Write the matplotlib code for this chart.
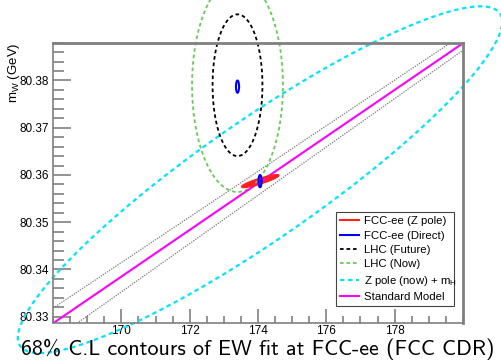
import numpy as np
import matplotlib
matplotlib.use("Agg")
import matplotlib.pyplot as plt

plt.rcParams['font.family'] = ['Liberation Sans', 'DejaVu Sans']
plt.rcParams['mathtext.default'] = 'regular'

# axis range (m_top in GeV, m_W in GeV)
mt_range = [168.0, 180.0]
mw_range = [80.3286, 80.3879]

# Standard Model line and its uncertainty band
sm_mt = [168.0, 180.0]
sm_mw = [80.3286, 80.3879]
band_up_mt = [168.0, 179.62]
band_up_mw = [80.3318, 80.3879]
band_lo_mt = [168.70, 180.0]
band_lo_mw = [80.3286, 80.3864]

# contours: centre (mt, mw) and two conjugate half-axes (dmt, dmw)
zpole_now_c = [174.06, 80.3590]
zpole_now_a = [7.02, 0.0352]
zpole_now_b = [0.98, -0.0104]

lhc_now_c = [173.4, 80.379]
lhc_now_a = [1.33, 0.0]
lhc_now_b = [0.0, 0.0226]

lhc_fut_c = [173.4, 80.379]
lhc_fut_a = [0.73, 0.0]
lhc_fut_b = [0.0, 0.0150]

fcc_z_c = [174.06, 80.3587]
fcc_z_a = [0.53, 0.0012]
fcc_z_b = [0.022, -0.0005]

fcc_dir_c = [[174.06, 80.3587], [173.40, 80.3787]]
fcc_dir_a = [0.045, 0.0]
fcc_dir_b = [0.0, 0.0013]

xticks = [170, 172, 174, 176, 178]
yticks = [80.33, 80.34, 80.35, 80.36, 80.37, 80.38]


def ellipse(c, a, b, n=400):
    t = np.linspace(0, 2 * np.pi, n)
    x = c[0] + a[0] * np.cos(t) + b[0] * np.sin(t)
    y = c[1] + a[1] * np.cos(t) + b[1] * np.sin(t)
    return x, y


fig = plt.figure(figsize=(5.02, 3.61), dpi=100)
ax = fig.add_axes([0.1056, 0.1044, 0.8167, 0.7773])
ax.set_xlim(mt_range)
ax.set_ylim(mw_range)

# SM band and line
ax.plot(band_up_mt, band_up_mw, color='#7a7a7a', lw=0.9, ls=(0, (1, 1)))
ax.plot(band_lo_mt, band_lo_mw, color='#7a7a7a', lw=0.9, ls=(0, (1, 1)))

# big contours (drawn past the frame like ROOT does)
x, y = ellipse(zpole_now_c, zpole_now_a, zpole_now_b)
l_cyan, = ax.plot(x, y, color='#00e5ff', lw=1.6, ls=(0, (2, 1.6)), clip_on=False)
x, y = ellipse(lhc_now_c, lhc_now_a, lhc_now_b)
l_green, = ax.plot(x, y, color='#66cc55', lw=1.3, ls=(0, (2, 1.6)), clip_on=False)
x, y = ellipse(lhc_fut_c, lhc_fut_a, lhc_fut_b)
l_black, = ax.plot(x, y, color='black', lw=1.3, ls=(0, (2, 1.6)), clip_on=False)

l_sm, = ax.plot(sm_mt, sm_mw, color='#ff00ff', lw=1.5)

x, y = ellipse(fcc_z_c, fcc_z_a, fcc_z_b)
ax.fill(x, y, color='#ff2020', lw=0)
l_red, = ax.plot(x, y, color='#ff2020', lw=1.5)
for c in fcc_dir_c:
    x, y = ellipse(c, fcc_dir_a, fcc_dir_b)
    l_blue, = ax.plot(x, y, color='#0000ff', lw=1.5)

# frame and ticks in ROOT style
for s in ['left', 'bottom']:
    ax.spines[s].set_color('#808080')
    ax.spines[s].set_linewidth(1.2)
for s in ['top', 'right']:
    ax.spines[s].set_color('#808080')
    ax.spines[s].set_linewidth(2.0)

ax.set_xticks(xticks)
ax.set_xticks(np.arange(168.0, 180.01, 0.5), minor=True)
ax.set_yticks(yticks)
ax.set_yticks(np.arange(80.330, 80.388, 0.002), minor=True)
ax.set_yticklabels(['%.2f' % v for v in yticks])
ax.tick_params(axis='y', which='major', direction='in', length=13, width=1.2,
               color='#808080', labelsize=8.5, pad=3)
ax.tick_params(axis='y', which='minor', direction='in', length=8, width=1.2,
               color='#808080')
ax.tick_params(axis='x', which='major', direction='in', length=10, width=1.2,
               color='#808080', labelsize=8.5, pad=1.5)
ax.tick_params(axis='x', which='minor', direction='in', length=5, width=1.2,
               color='#808080')

fig.text(0.028, 0.882, 'm$_W$ (GeV)', rotation=90, ha='center', va='top',
         fontsize=9.5)

leg = ax.legend([l_red, l_blue, l_black, l_green, l_cyan, l_sm],
                ['FCC-ee (Z pole)', 'FCC-ee (Direct)', 'LHC (Future)',
                 'LHC (Now)', 'Z pole (now) + m$_H$', 'Standard Model'],
                loc='lower left', bbox_to_anchor=(0.690, 0.0617, 0.288, 0.349),
                mode='expand', fontsize=8.2, frameon=True, fancybox=False,
                framealpha=1, edgecolor='#444444', labelspacing=0.38,
                handlelength=1.7, handletextpad=0.45, borderpad=0.35,
                borderaxespad=0)
leg.get_frame().set_linewidth(0.8)

fig.text(0.513, 0.002, '68% C.L contours of EW fit at FCC-ee (FCC CDR)',
         ha='center', va='bottom', fontsize=15.8, family=['cmss10', 'DejaVu Sans'])

fig.savefig('out.png', dpi=100)
